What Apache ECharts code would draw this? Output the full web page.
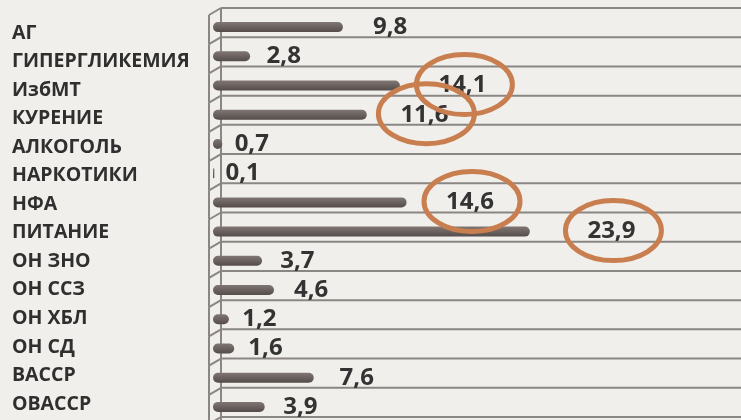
<!DOCTYPE html>
<html>
<head>
<meta charset="utf-8">
<script src="https://cdn.jsdelivr.net/npm/echarts@6/dist/echarts.min.js"></script>
<style>
  html, body { margin: 0; padding: 0; background: #f1efeb; }
  #main { width: 741px; height: 420px; }
</style>
</head>
<body>
<div id="main"></div>
<script>
// факторы риска
var categories = ['АГ', 'ГИПЕРГЛИКЕМИЯ', 'ИзбМТ', 'КУРЕНИЕ', 'АЛКОГОЛЬ', 'НАРКОТИКИ', 'НФА',
  'ПИТАНИЕ', 'ОН ЗНО', 'ОН ССЗ', 'ОН ХБЛ', 'ОН СД', 'ВАССР', 'ОВАССР'];
var values = [9.8, 2.8, 14.1, 11.6, 0.7, 0.1, 14.6, 23.9, 3.7, 4.6, 1.2, 1.6, 7.6, 3.9];
// обведённые значения
var highlighted = ['ИзбМТ', 'КУРЕНИЕ', 'НФА', 'ПИТАНИЕ'];

var font = '"Open Sans", "DejaVu Sans", sans-serif';
var lineColor = '#8a8683';

var myChart = echarts.init(document.getElementById('main'));

var idx = categories.map(function (c, i) { return i; });
var hiData = [];
for (var i = 0; i < categories.length; i++) {
  if (highlighted.indexOf(categories[i]) >= 0) hiData.push([values[i], i]);
}

function lineStyle() { return { stroke: lineColor, lineWidth: 2 }; }

var option = {
  backgroundColor: '#f1efeb',
  animation: false,
  grid: [
    { left: 221, width: 519, top: 8, height: 409, outerBoundsMode: 'none' },     // сетка и стенка
    { left: 213, width: 517, top: 12.5, height: 409, outerBoundsMode: 'none' },  // столбики
    { left: 219, width: 517, top: 12.5, height: 409, outerBoundsMode: 'none' },  // подписи значений
    { left: 200, width: 10, top: 18.7, height: 399.6, outerBoundsMode: 'none' }  // подписи категорий
  ],
  xAxis: [
    { type: 'value', min: 0, max: 1, show: false, gridIndex: 0 },
    { type: 'value', min: 0, max: 39, show: false, gridIndex: 1 },
    { type: 'value', min: 0, max: 34, show: false, gridIndex: 2 },
    { type: 'value', show: false, gridIndex: 3 }
  ],
  yAxis: [
    { type: 'category', data: categories, inverse: true, gridIndex: 0, show: false },
    { type: 'category', data: categories, inverse: true, gridIndex: 1, show: false },
    { type: 'category', data: categories, inverse: true, gridIndex: 2, show: false },
    {
      type: 'category', data: categories, inverse: true, gridIndex: 3,
      axisLine: { show: false },
      axisTick: { show: false },
      axisLabel: {
        align: 'left', margin: 188, color: '#2f2f2f',
        fontFamily: font, fontWeight: 'bold', fontSize: 19.5
      }
    }
  ],
  series: [
    {
      // сетка и боковая стенка 3D
      type: 'custom', xAxisIndex: 0, yAxisIndex: 0, data: idx, silent: true, clip: false,
      encode: { y: 0 },
      renderItem: function (params, api) {
        var p = api.coord([0, api.value(0)]);
        var xr = api.coord([1, api.value(0)])[0] + 2;
        var band = api.size([0, 1])[1];
        var yTop = p[1] - band / 2;
        var x0 = p[0];
        var kids = [
          { type: 'line', shape: { x1: x0, y1: yTop, x2: xr, y2: yTop }, style: lineStyle() },
          { type: 'line', shape: { x1: x0, y1: yTop, x2: x0, y2: yTop + band }, style: lineStyle() },
          { type: 'line', shape: { x1: x0, y1: yTop, x2: x0 - 12, y2: yTop + 7 }, style: lineStyle() },
          { type: 'line', shape: { x1: x0 - 12, y1: yTop + 7, x2: x0 - 12, y2: yTop + band + 7 }, style: lineStyle() }
        ];
        if (params.dataIndex === categories.length - 1) {
          kids.push({ type: 'line', shape: { x1: x0, y1: yTop + band, x2: xr, y2: yTop + band }, style: lineStyle() });
          kids.push({ type: 'line', shape: { x1: x0, y1: yTop + band, x2: x0, y2: yTop + band + 10 }, style: lineStyle() });
          kids.push({ type: 'line', shape: { x1: x0, y1: yTop + band, x2: x0 - 12, y2: yTop + band + 7 }, style: lineStyle() });
        }
        return { type: 'group', children: kids };
      }
    },
    {
      type: 'bar', xAxisIndex: 1, yAxisIndex: 1, data: values, barWidth: 10, z: 3,
      itemStyle: {
        borderRadius: 5,
        color: new echarts.graphic.LinearGradient(0, 0, 0, 1, [
          { offset: 0, color: '#807774' },
          { offset: 0.45, color: '#6d6461' },
          { offset: 1, color: '#544c4a' }
        ])
      }
    },
    {
      type: 'bar', xAxisIndex: 2, yAxisIndex: 2, data: values, barWidth: 10, z: 3,
      itemStyle: { color: 'rgba(0,0,0,0)' },
      label: {
        show: true, position: 'right', distance: 5,
        color: '#333', fontFamily: font, fontWeight: 'bold', fontSize: 24,
        formatter: function (p) { return String(p.value).replace('.', ','); }
      }
    },
    {
      // оранжевые овалы
      type: 'custom', xAxisIndex: 2, yAxisIndex: 2, data: hiData, silent: true, clip: false, z: 5,
      renderItem: function (params, api) {
        var p = api.coord([api.value(0), api.value(1)]);
        return {
          type: 'ellipse',
          shape: { cx: p[0] + 31, cy: p[1] - 1, rx: 48, ry: 30 },
          style: { fill: 'none', stroke: '#c97e4f', lineWidth: 5 }
        };
      }
    }
  ]
};
myChart.setOption(option);
</script>
</body>
</html>
